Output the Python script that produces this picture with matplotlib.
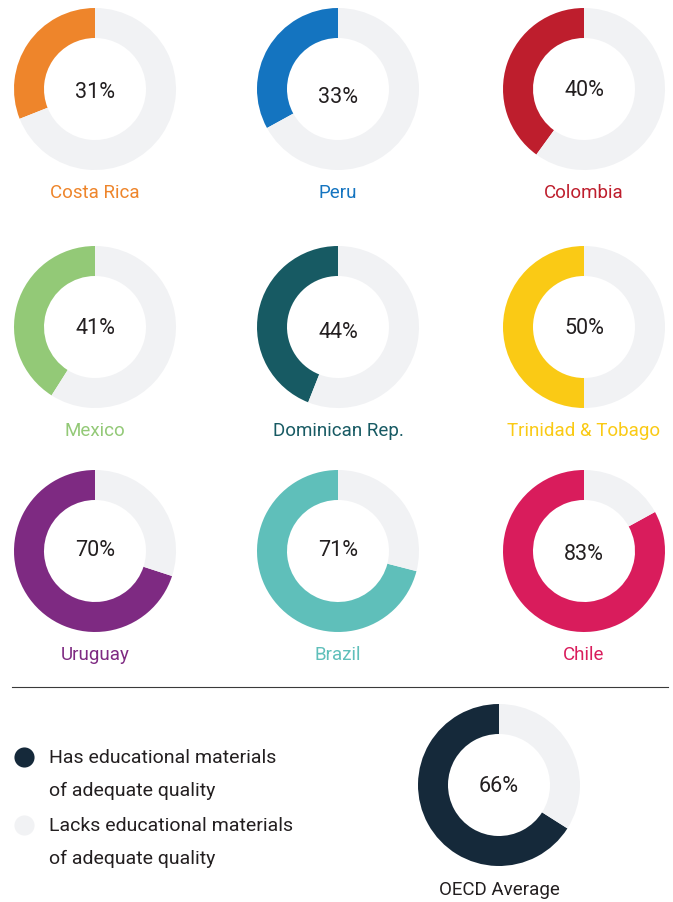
import matplotlib
matplotlib.use("Agg")
import matplotlib.pyplot as plt
from matplotlib.lines import Line2D

plt.rcParams["font.family"] = ["Roboto", "DejaVu Sans"]

# data
countries = ["Costa Rica", "Peru", "Colombia",
             "Mexico", "Dominican Rep.", "Trinidad & Tobago",
             "Uruguay", "Brazil", "Chile"]
has_pct = [31, 33, 40, 41, 44, 50, 70, 71, 83]
colors = ["#EE852B", "#1474C0", "#BE1E2D",
          "#93C977", "#175A63", "#FACA15",
          "#7E2A82", "#5FBFBA", "#D91C5C"]
oecd_label = "OECD Average"
oecd_pct = 66
oecd_color = "#15293A"
legend_lines = [("Has educational materials", "of adequate quality"),
                ("Lacks educational materials", "of adequate quality")]
rest_color = "#F1F2F4"
text_color = "#231F20"

W, H = 673, 903
fig = plt.figure(figsize=(W / 100, H / 100), dpi=100)
ax = fig.add_axes([0, 0, 1, 1])

col_x = [95, 338, 584]
row_y = [90, 328, 552]   # donut centres, pixels from top
pct_dy = [2, 7, 0, 0, 5, 0, -1, -1, 2]  # small nudges of the centre labels
label_dy = 103
R, RING = 81, 30


def donut(cx, cy_top, pct, color, dy=0):
    cy = H - cy_top
    ax.pie([pct, 100 - pct], colors=[color, rest_color], startangle=90,
           counterclock=True, center=(cx, cy), radius=R,
           wedgeprops=dict(width=RING, linewidth=0))
    ax.text(cx, cy - dy, f"{pct}%", ha="center", va="center",
            fontsize=15.5, color=text_color)


for i, (name, pct, c) in enumerate(zip(countries, has_pct, colors)):
    cx = col_x[i % 3]
    cy_top = row_y[i // 3]
    donut(cx, cy_top, pct, c, pct_dy[i])
    ax.text(cx, H - (cy_top + label_dy), name, ha="center", va="center",
            fontsize=13.5, color=c)

# OECD average
donut(499, 786, oecd_pct, oecd_color, 1)
ax.text(499, H - 890, oecd_label, ha="center", va="center",
        fontsize=13.5, color=text_color)

# separator
ax.add_line(Line2D([12, 668], [H - 688, H - 688], color="#3a3a3a", lw=0.8))

# legend
for (y_top, lines, c) in zip([758, 826], legend_lines, [oecd_color, rest_color]):
    ax.scatter([24], [H - y_top], s=210, color=c, linewidths=0, zorder=3)
    ax.text(49, H - y_top, lines[0], ha="left", va="center", fontsize=14,
            color=text_color)
    ax.text(49, H - (y_top + 33), lines[1], ha="left", va="center", fontsize=14,
            color=text_color)

ax.set_xlim(0, W)
ax.set_ylim(0, H)
ax.set_aspect("auto")
ax.axis("off")

fig.savefig("out.png", dpi=100, facecolor="white")
